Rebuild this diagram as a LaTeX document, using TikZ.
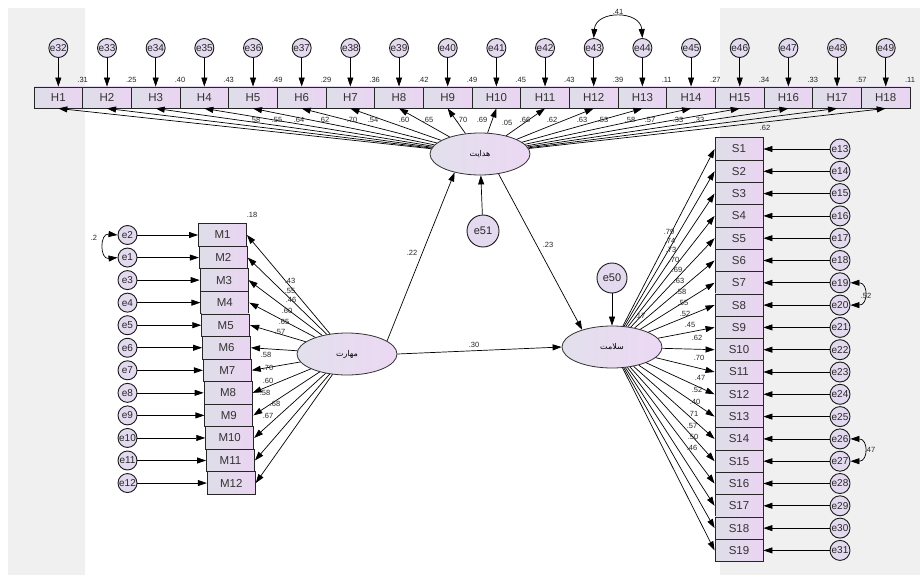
\documentclass[tikz,border=0pt]{standalone}
\usepackage{fontspec}
\setmainfont{Liberation Sans}
\newfontfamily\arabicfont[Script=Arabic]{DejaVu Sans}
\TeXXeTstate=1
\usetikzlibrary{arrows.meta,shapes.geometric}
\definecolor{bgray}{RGB}{240,240,240}
\definecolor{boxl}{RGB}{222,222,232}
\definecolor{boxr}{RGB}{234,212,242}
\definecolor{errc}{RGB}{228,218,240}
\definecolor{latl}{RGB}{226,224,236}
\definecolor{latr}{RGB}{236,216,244}
\begin{document}
\begin{tikzpicture}[x=1pt,y=-1pt,
 obs/.style={draw=black!85, line width=0.9pt, inner sep=0pt, left color=boxl, right color=boxr, font=\fontsize{11.5}{13}\selectfont, text=black!80},
 err/.style={circle, draw=black!90, line width=0.9pt, inner sep=0pt, minimum size=19pt, fill=errc, font=\fontsize{10}{11}\selectfont, text=black!85},
 lat/.style={ellipse, draw=black!80, line width=0.8pt, inner sep=0pt, minimum width=100pt, minimum height=42pt, left color=latl, right color=latr, font=\arabicfont\fontsize{8}{10}\selectfont},
 arr/.style={-{Triangle[length=9pt,width=6pt]}, line width=0.7pt},
 cov/.style={{Triangle[length=9pt,width=6pt]}-{Triangle[length=9pt,width=6pt]}, line width=0.7pt},
 lbl/.style={font=\fontsize{7.5}{8}\selectfont, inner sep=0.5pt, text=black!85}
]
\useasboundingbox (0,0) rectangle (920,575);
\fill[bgray] (8,8) rectangle (920,575);
\fill[white] (85,8) rectangle (720,575);

% latent variables
\node[lat] (hid) at (480,154) {\beginR هدایت\endR};
\node[lat] (mah) at (347,354) {\beginR مهارت\endR};
\node[lat] (sal) at (612,347) {\beginR سلامت\endR};

% H indicators
\foreach \i/\rr in {1/.31,2/.25,3/.40,4/.43,5/.49,6/.29,7/.36,8/.42,9/.49,10/.45,11/.43,12/.39,13/.11,14/.27,15/.34,16/.33,17/.57,18/.11} {
  \pgfmathsetmacro\xx{34+48.67*(\i-0.5)}
  \pgfmathsetmacro\xr{34+48.67*\i}
  \pgfmathtruncatemacro\ee{31+\i}
  \node[obs, minimum width=48.67pt, minimum height=21pt] (H\i) at (\xx,97.5) {H\i};
  \node[err] (e\ee) at (\xx,48) {e\ee};
  \draw[arr] (e\ee) -- (H\i);
  \node[lbl] at (\xr,80) {\rr};
  \draw[arr] (hid) -- (H\i.south);
}

% M indicators
\foreach \i/\ee in {1/2,2/1,3/3,4/4,5/5,6/6,7/7,8/8,9/9,10/10,11/11,12/12} {
  \pgfmathsetmacro\xx{222.5+(\i-1)*0.8}
  \pgfmathsetmacro\yy{235+(\i-1)*22.55}
  \node[obs, minimum width=48pt, minimum height=22.5pt] (M\i) at (\xx,\yy) {M\i};
  \node[err] (e\ee) at (127.5,\yy) {e\ee};
  \draw[arr] (e\ee) -- (M\i);
  \draw[arr] (mah) -- (M\i.east);
}

% S indicators
\foreach \i in {1,...,19} {
  \pgfmathsetmacro\yy{149+(\i-1)*22.3}
  \pgfmathtruncatemacro\ee{12+\i}
  \node[obs, minimum width=48pt, minimum height=22.3pt] (S\i) at (739,\yy) {S\i};
  \node[err, minimum size=20pt] (e\ee) at (840,\yy) {e\ee};
  \draw[arr] (e\ee) -- (S\i);
  \draw[arr] (sal) -- (S\i.west);
}

% disturbances
\node[err, minimum size=32pt, font=\fontsize{11}{12}\selectfont] (e51) at (483,231) {e51};
\node[err, minimum size=30pt, font=\fontsize{11}{12}\selectfont] (e50) at (612,278) {e50};
\draw[arr] (e51) -- (hid);
\draw[arr] (e50) -- (sal);

% structural paths
\draw[arr] (mah.18) -- (hid.216);
\draw[arr] (hid.-47) -- (sal.150);
\draw[arr] (mah.east) -- (sal.west);
\node[lbl] at (412,253) {.22};
\node[lbl] at (548,245) {.23};
\node[lbl] at (474,345) {.30};
\node[lbl] at (507,123) {.05};
\node[lbl] at (640,316) {.17};
\node[lbl] at (252,215) {.18};
\node[lbl] at (765,128) {.62};

% covariances
\draw[cov] (e43.north) .. controls +(2,-28) and +(-2,-28) .. (e44.north);
\node[lbl] at (618,12) {.41};
\draw[cov] (e2.west) .. controls +(-18,-2) and +(-18,2) .. (e1.west);
\node[lbl] at (94,238) {.2};
\draw[cov] (e19.east) .. controls +(18,0) and +(18,0) .. (e20.east);
\node[lbl] at (866,296) {.52};
\draw[cov] (e26.east) .. controls +(18,0) and +(18,0) .. (e27.east);
\node[lbl] at (870,450) {.47};

% H loadings
\foreach \p/\v in {255/.58,277/.55,299/.64,324/.62,352/.70,373/.54,404/.60,428/.65,462/.70,482/.69,525/.66,552/.62,582/.63,603/.53,630/.58,650/.57,678/.33,699/.33} {
  \node[lbl] at (\p,120) {\v};
}
% M loadings
\foreach \p/\q/\v in {290/281/.43,290/291/.55,291/300/.46,287/311/.60,284/322/.65,280/332/.57,266/355/.58,268/368/.70,268/381/.60,265/393/.58,275/404/.68,268/416/.67} {
  \node[lbl] at (\p,\q) {\v};
}
% S loadings
\foreach \p/\q/\v in {669/232/.79,670/241/.74,671/250/.73,674/260/.70,677/270/.69,679/281/.63,681/292/.58,683/303/.55,685/314/.52,697/338/.62,699/358/.70,700/378/.47,697/390/.52,695/402/.40,693/414/.71,692/426/.57,693/437/.50,692/448/.46,690/325/.45} {
  \node[lbl] at (\p,\q) {\v};
}
\end{tikzpicture}
\end{document}
